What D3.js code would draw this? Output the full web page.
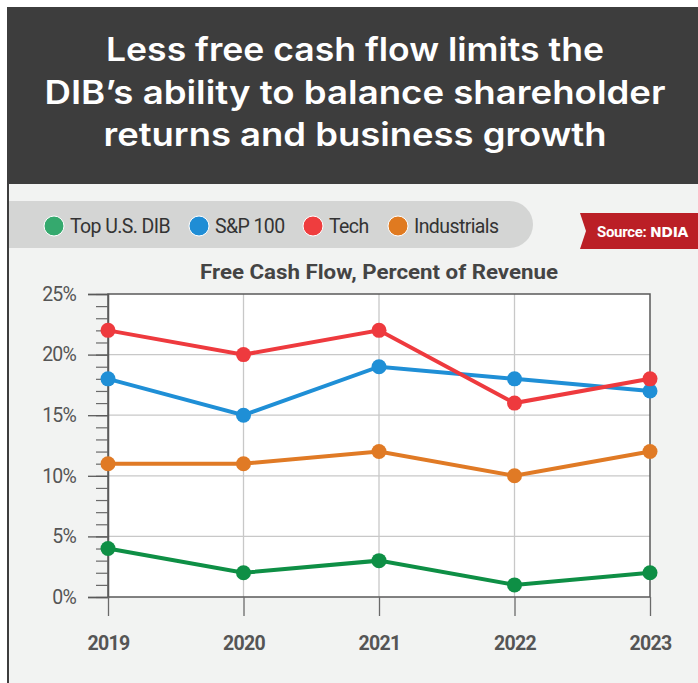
<!DOCTYPE html>
<html>
<head>
<meta charset="utf-8">
<script src="https://cdn.jsdelivr.net/npm/d3@7/dist/d3.min.js"></script>
<style>
  html, body { margin: 0; padding: 0; background: #ffffff; }
  svg { display: block; }
</style>
</head>
<body>
<svg id="chart" width="698" height="683"></svg>
<script>
// Chart data
const years = ["2019", "2020", "2021", "2022", "2023"];
const seriesNames = ["Top U.S. DIB", "S&P 100", "Tech", "Industrials"];
const topDib = [4, 2, 3, 1, 2];
const sp100 = [18, 15, 19, 18, 17];
const tech = [22, 20, 22, 16, 18];
const industrials = [11, 11, 12, 10, 12];
const yTicks = [0, 5, 10, 15, 20, 25];
const titleLines = [
  "Less free cash flow limits the",
  "DIB\u2019s ability to balance shareholder",
  "returns and business growth"
];
const subtitle = "Free Cash Flow, Percent of Revenue";

const lineColors = ["#0e8f45", "#1f8fd6", "#ee3a3e", "#e07a25"];
const legendColors = ["#35a96e", "#1f8dd5", "#ef3d3e", "#e07a20"];
const seriesValues = [topDib, sp100, tech, industrials];

const svg = d3.select("#chart");
const W = 698, H = 683;

// Header block and panel
svg.append("rect").attr("x", 7).attr("y", 7).attr("width", W - 7).attr("height", 177).attr("fill", "#3d3d3d");
svg.append("rect").attr("x", 9).attr("y", 184).attr("width", W - 9).attr("height", H - 184).attr("fill", "#f2f3f2");
svg.append("rect").attr("x", 7).attr("y", 184).attr("width", 2).attr("height", H - 184).attr("fill", "#3d3d3d");

// Headline, each line fitted to its width
const titleWidths = [498, 621, 503];
titleLines.forEach((t, i) => {
  svg.append("text")
    .attr("x", 355).attr("y", 61 + i * 42.5)
    .attr("text-anchor", "middle")
    .attr("fill", "#ffffff")
    .attr("textLength", titleWidths[i])
    .attr("lengthAdjust", "spacingAndGlyphs")
    .style("font-family", "Inter, 'Noto Sans', sans-serif")
    .style("font-weight", 600)
    .style("font-size", "32px")
    .text(t);
});

// Legend pill
const pill = d3.path();
pill.moveTo(9, 201);
pill.lineTo(509.5, 201);
pill.arc(509.5, 224.5, 23.5, -Math.PI / 2, Math.PI / 2);
pill.lineTo(9, 248);
pill.closePath();
svg.append("path").attr("d", pill.toString()).attr("fill", "#d4d5d4");

const legendX = [54, 199, 313, 398];
const legend = svg.append("g");
seriesNames.forEach((name, i) => {
  legend.append("circle")
    .attr("cx", legendX[i]).attr("cy", 226).attr("r", 10)
    .attr("fill", legendColors[i]).attr("stroke", "#ffffff").attr("stroke-width", 1);
  legend.append("text")
    .attr("x", legendX[i] + 16).attr("y", 232.5)
    .attr("fill", "#333333")
    .style("font-family", "Roboto, sans-serif")
    .style("font-size", "19.5px")
    .style("letter-spacing", "-0.6px")
    .text(name);
});

// Source badge
const badge = d3.path();
badge.moveTo(580, 213);
badge.lineTo(W, 213);
badge.lineTo(W, 249);
badge.lineTo(580, 249);
badge.lineTo(586, 231);
badge.closePath();
svg.append("path").attr("d", badge.toString()).attr("fill", "#bb1f26");
const src = svg.append("text")
  .attr("x", 597).attr("y", 237)
  .attr("fill", "#ffffff")
  .style("font-family", "Roboto, sans-serif")
  .style("font-weight", 700)
  .style("font-size", "15px")
  .style("letter-spacing", "-0.3px");
src.append("tspan").text("Source: ");
src.append("tspan").style("font-weight", 900).style("font-family", "'DejaVu Sans', sans-serif").style("font-size", "14px").text("NDIA");

// Plot
const m = { left: 108, right: 650, top: 294, bottom: 597 };
const x = d3.scalePoint().domain(years).range([m.left, m.right]);
const y = d3.scaleLinear().domain([0, 25]).range([m.bottom, m.top]);

svg.append("text")
  .attr("x", 379).attr("y", 279)
  .attr("text-anchor", "middle")
  .attr("fill", "#444444")
  .attr("textLength", 358)
  .attr("lengthAdjust", "spacingAndGlyphs")
  .style("font-family", "Roboto, sans-serif")
  .style("font-weight", 700)
  .style("font-size", "20px")
  .text(subtitle);

svg.append("rect")
  .attr("x", m.left).attr("y", m.top)
  .attr("width", m.right - m.left).attr("height", m.bottom - m.top)
  .attr("fill", "#ffffff");

// Grid lines
const grid = svg.append("g");
grid.selectAll("line.h").data(yTicks.filter(d => d > 0 && d < 25)).join("line")
  .attr("x1", m.left).attr("x2", m.right)
  .attr("y1", d => y(d)).attr("y2", d => y(d))
  .attr("stroke", "#c8c8c8").attr("stroke-width", 1.3);
grid.selectAll("line.v").data(years.slice(1, -1)).join("line")
  .attr("x1", d => x(d)).attr("x2", d => x(d))
  .attr("y1", m.top).attr("y2", m.bottom)
  .attr("stroke", "#c8c8c8").attr("stroke-width", 1.3);

// Frame
svg.append("path")
  .attr("d", `M${m.left},${m.top}H${m.right}V${m.bottom}H${m.left}Z`)
  .attr("fill", "none").attr("stroke", "#5a5a5a").attr("stroke-width", 1.5);

// Y axis with major and minor ticks
const yAxis = svg.append("g").attr("transform", `translate(${m.left},0)`);
yAxis.call(d3.axisLeft(y).tickValues(d3.range(0, 26, 1)).tickSize(12).tickFormat(""))
  .call(g => g.select(".domain").remove())
  .call(g => g.selectAll(".tick line").attr("stroke", "#6a6a6a").attr("stroke-width", 1.2));
yAxis.append("g")
  .call(d3.axisLeft(y).tickValues(yTicks).tickSize(20).tickPadding(12).tickFormat(d => d + "%"))
  .call(g => g.select(".domain").attr("stroke", "#5a5a5a").attr("stroke-width", 1.5))
  .call(g => g.selectAll(".tick line").attr("stroke", "#5a5a5a").attr("stroke-width", 1.3))
  .call(g => g.selectAll(".tick text")
    .attr("fill", "#555555")
    .style("font-family", "Roboto, sans-serif")
    .style("font-size", "19.5px")
    .style("letter-spacing", "-0.8px"));

// X axis
svg.append("g")
  .attr("transform", `translate(0,${m.bottom})`)
  .call(d3.axisBottom(x).tickSize(19).tickPadding(20))
  .call(g => g.select(".domain").remove())
  .call(g => g.selectAll(".tick line").attr("stroke", "#6a6a6a").attr("stroke-width", 1.3))
  .call(g => g.selectAll(".tick text")
    .attr("fill", "#555555")
    .style("font-family", "Roboto, sans-serif")
    .style("font-weight", 700)
    .style("font-size", "19.5px")
    .style("letter-spacing", "-0.7px"));

// Series lines and markers
const line = d3.line().x((d, i) => x(years[i])).y(d => y(d));
const series = svg.append("g");
seriesValues.forEach((vals, i) => {
  const g = series.append("g");
  g.append("path").attr("d", line(vals))
    .attr("fill", "none").attr("stroke", lineColors[i]).attr("stroke-width", 4);
  g.selectAll("circle").data(vals).join("circle")
    .attr("cx", (d, j) => x(years[j])).attr("cy", d => y(d)).attr("r", 7.5)
    .attr("fill", lineColors[i]);
});
</script>
</body>
</html>
